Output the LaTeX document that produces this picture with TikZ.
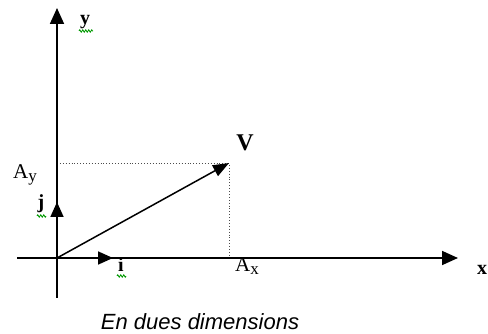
\documentclass[tikz,border=0pt]{standalone}
\usepackage{fontspec}
\setmainfont{Liberation Serif}
\newfontfamily\capfont{Liberation Sans}
\usetikzlibrary{arrows.meta,decorations.pathmorphing}
\begin{document}
\begin{tikzpicture}[x=1pt,y=-1pt,
  axisline/.style={line width=1.7pt,-{Triangle[length=16pt,width=14pt]}},
  unitvec/.style={line width=1.7pt,-{Triangle[length=15pt,width=13pt]}},
  vecline/.style={line width=1.5pt,-{Triangle[length=16pt,width=12pt]}},
  guide/.style={line width=0.9pt,dotted,black!70},
  lbl/.style={inner sep=0pt,font=\fontsize{21}{23}\selectfont},
  blbl/.style={inner sep=0pt,font=\fontsize{20}{22}\selectfont\bfseries},
  squig/.style={draw=green!60!black,line width=0.8pt,decorate,decoration={zigzag,segment length=3pt,amplitude=1.2pt}}
]
\useasboundingbox (0,0) rectangle (488,334);
% coordinates
\coordinate (O) at (57,258);
\coordinate (xs) at (17,258);
\coordinate (xe) at (458,258);
\coordinate (ys) at (57,298);
\coordinate (ye) at (57,8);
\coordinate (it) at (113,258);
\coordinate (jt) at (57,202);
\coordinate (vt) at (229,163);
\coordinate (ay) at (57,163);
\coordinate (ax) at (229,258);
% guides
\draw[guide] (ay) -- (vt) -- (ax);
% axes
\draw[axisline] (xs) -- (xe);
\draw[axisline] (ys) -- (ye);
% unit vectors
\draw[unitvec] (O) -- (it);
\draw[unitvec] (O) -- (jt);
% vector
\draw[vecline] (O) -- (vt);
% labels
\node[blbl] (lx) at (482,270) {x};
\node[blbl] (ly) at (85,22) {y};
\node[blbl,font=\fontsize{24}{26}\selectfont\bfseries] (lv) at (245,143) {V};
\node[lbl] (lay) at (25,175) {A\raisebox{-3pt}{\fontsize{17}{17}\selectfont y}};
\node[lbl] (lax) at (247,266) {A\raisebox{-3pt}{\fontsize{17}{17}\selectfont x}};
\node[blbl] (lj) at (41,204) {j};
\node[blbl] (li) at (121,265) {i};
% spell-check squiggles
\draw[squig] (79,31) -- (93,31);
\draw[squig] (37,216) -- (46,216);
\draw[squig] (117,276) -- (126,276);
% caption
\node[inner sep=0pt,anchor=base,font=\capfont\itshape\fontsize{22}{24}\selectfont] (cap) at (200,329) {En dues dimensions};
\end{tikzpicture}
\end{document}
